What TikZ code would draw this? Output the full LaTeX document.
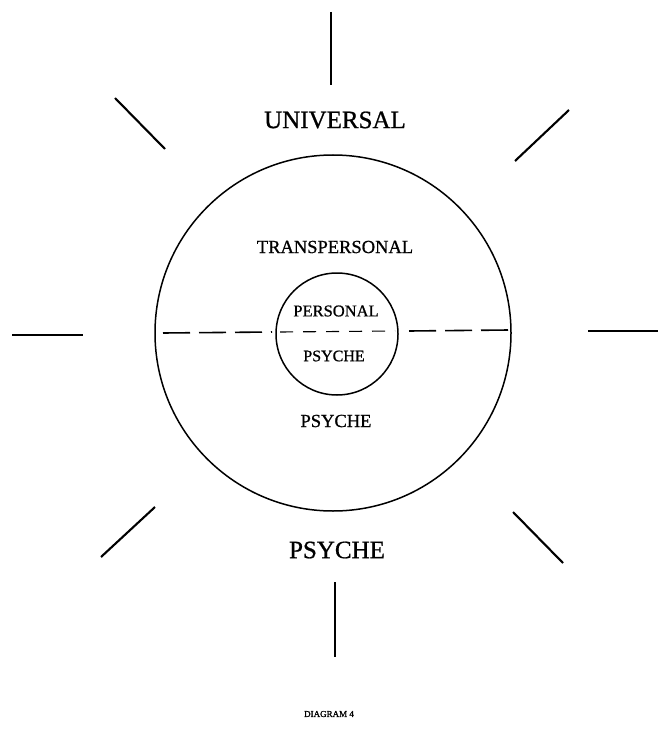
\documentclass[tikz,border=0pt]{standalone}
\usepackage{fontspec}
\setmainfont{Liberation Serif}[FakeBold=0.8]
\newfontfamily\smallheavy{Liberation Serif}[FakeBold=1.5]
\begin{document}
\begin{tikzpicture}[x=1pt,y=-1pt,
  ray/.style={line width=2.1pt},
  ring/.style={draw,circle,line width=1.5pt,inner sep=0pt},
  lbl/.style={inner sep=0pt,anchor=center},
  dsh/.style={line width=1.6pt,dash pattern=on 27pt off 9pt},
  dshin/.style={line width=1.1pt,dash pattern=on 13pt off 10pt}]
\useasboundingbox[fill=white] (0,0) rectangle (659,743);
% circles
\node[ring,minimum size=356pt] (big) at (333,333) {};
\node[ring,minimum size=122pt] (small) at (337,334) {};
% dashed divider
\coordinate (dl1) at (163,333);
\coordinate (dl2) at (272,332);
\coordinate (di1) at (280,332);
\coordinate (di2) at (395,331);
\coordinate (dr1) at (409,331);
\coordinate (dr2) at (509,330);
\draw[dsh] (dl1) -- (dl2);
\draw[dshin] (di1) -- (di2);
\draw[dsh] (dr1) -- (dr2);
% rays
\coordinate (t1) at (331,12);   \coordinate (t2) at (331,85);
\coordinate (b1) at (335,582);  \coordinate (b2) at (335,657);
\coordinate (l1) at (12,335);   \coordinate (l2) at (83,335);
\coordinate (r1) at (588,331);  \coordinate (r2) at (658,331);
\coordinate (tl1) at (115,98);  \coordinate (tl2) at (165,149);
\coordinate (tr1) at (515,161); \coordinate (tr2) at (569,110);
\coordinate (bl1) at (101,557); \coordinate (bl2) at (155,507);
\coordinate (br1) at (513,512); \coordinate (br2) at (563,563);
\draw[ray] (t1) -- (t2);
\draw[ray] (b1) -- (b2);
\draw[ray] (l1) -- (l2);
\draw[ray] (r1) -- (r2);
\draw[ray] (tl1) -- (tl2);
\draw[ray] (tr1) -- (tr2);
\draw[ray] (bl1) -- (bl2);
\draw[ray] (br1) -- (br2);
% labels
\node[lbl] (universal) at (335,120) {\fontsize{25}{25}\selectfont UNIVERSAL};
\node[lbl] (transp) at (335,247) {\fontsize{18.5}{18}\selectfont TRANSPERSONAL};
\node[lbl] (personal) at (336,311) {\fontsize{16.5}{16}\selectfont PERSONAL};
\node[lbl] (psyin) at (334,356) {\fontsize{16}{16}\selectfont PSYCHE};
\node[lbl] (psymid) at (336,421) {\fontsize{18.5}{18}\selectfont PSYCHE};
\node[lbl] (psyout) at (337,550) {\fontsize{25}{25}\selectfont PSYCHE};
\node[lbl] (diag) at (329,714) {\smallheavy\fontsize{9}{9}\selectfont DIAGRAM 4};
\end{tikzpicture}
\end{document}
